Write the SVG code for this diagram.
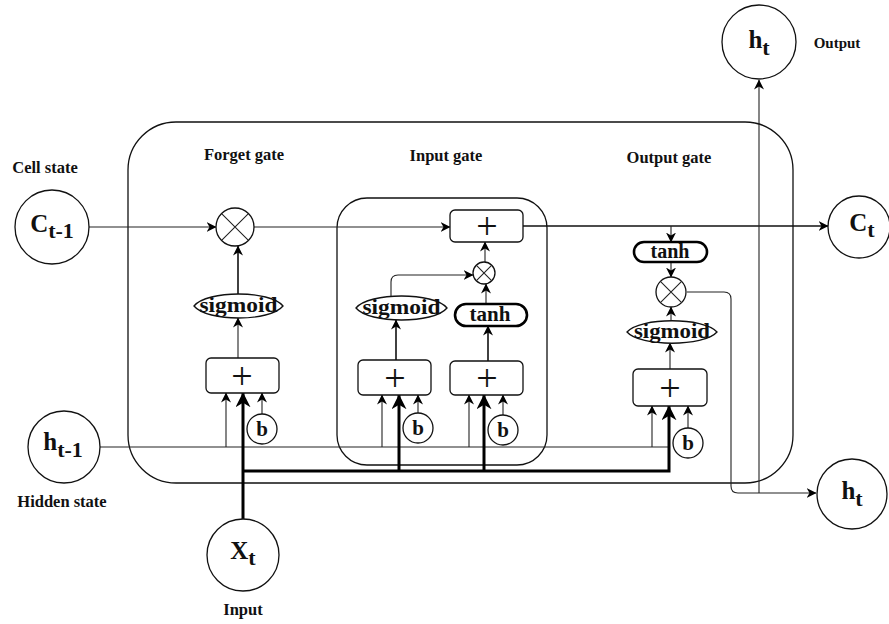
<svg xmlns="http://www.w3.org/2000/svg" width="889" height="624" viewBox="0 0 889 624">
<defs>
<style>
.lbl{font-family:"Liberation Serif","Times New Roman",serif;font-weight:bold;fill:#111}
.big{font-family:"Liberation Serif","Times New Roman",serif;font-weight:bold;fill:#111;font-size:25px;text-anchor:middle}
.sub{font-size:22px}
.ttl{font-family:"Liberation Serif","Times New Roman",serif;font-weight:bold;fill:#111;font-size:16.5px;text-anchor:middle}
.plus{font-family:"Liberation Serif","Times New Roman",serif;font-weight:normal;fill:#111;font-size:38px;text-anchor:middle}
.thin{stroke:#222;stroke-width:1.1;fill:none}
.mid{stroke:#111;stroke-width:1.6;fill:none}
.thick{stroke:#000;stroke-width:3;fill:none}
.node{fill:#fff;stroke:#111;stroke-width:1.3}
.bold{fill:#fff;stroke:#000;stroke-width:2.6}
.frame{fill:none;stroke:#111;stroke-width:1.3}
</style>
<marker id="a" viewBox="0 0 10 10" refX="9.5" refY="5" markerWidth="10" markerHeight="10" markerUnits="userSpaceOnUse" orient="auto">
<path d="M0,0 L10,5 L0,10 L3,5 Z" fill="#000"/>
</marker>
<marker id="A" viewBox="0 0 10 10" refX="9.5" refY="5" markerWidth="15" markerHeight="15" markerUnits="userSpaceOnUse" orient="auto">
<path d="M0,0 L10,5 L0,10 L3,5 Z" fill="#000"/>
</marker>
</defs>
<rect width="889" height="624" fill="#fff"/>

<g id="frames">
<rect class="frame" x="128" y="122" width="665" height="361" rx="48" ry="48"/>
<rect class="frame" x="337" y="198" width="210" height="267" rx="30" ry="30"/>
</g>

<g id="titles">
<text class="ttl" x="45" y="173">Cell state</text>
<text class="ttl" x="244" y="160">Forget gate</text>
<text class="ttl" x="446" y="161">Input gate</text>
<text class="ttl" x="669" y="163">Output gate</text>
<text class="ttl" x="837" y="48" style="font-size:15px">Output</text>
<text class="ttl" x="62" y="507">Hidden state</text>
<text class="ttl" x="243" y="615">Input</text>
</g>

<g id="connectors">
<path class="thin" d="M89,227 H216" marker-end="url(#a)"/>
<path class="thin" d="M254,227 H450" marker-end="url(#a)"/>
<path class="mid" d="M523,226 H828" marker-end="url(#a)"/>
<path class="thin" d="M671,226 V242" marker-end="url(#a)"/>
<path class="thin" d="M671,262 V277" marker-end="url(#a)"/>
<path class="thin" d="M671,321 V307" marker-end="url(#a)"/>
<path class="thin" d="M670,369 V343" marker-end="url(#a)"/>
<path class="thin" d="M687,292 H724 Q731,292 731,299 V486 Q731,493 738,493 H816" marker-end="url(#a)"/>
<path class="thin" d="M759,493 V80" marker-end="url(#a)"/>
<path class="mid" d="M238,294 V246" marker-end="url(#a)"/>
<path class="thin" d="M238,358 V318" marker-end="url(#a)"/>
<path class="thin" d="M485,262 V242" marker-end="url(#a)"/>
<path class="thin" d="M391,296 V282 Q391,275 398,275 H473" marker-end="url(#a)"/>
<path class="thin" d="M486,304 V284" marker-end="url(#a)"/>
<path class="mid" d="M488,361 V326" marker-end="url(#a)"/>
<path class="mid" d="M396,360 V320" marker-end="url(#a)"/>
<path class="thin" d="M100,447 H668"/>
<path class="thin" d="M226,447 V393" marker-end="url(#a)"/>
<path class="thin" d="M382,447 V395" marker-end="url(#a)"/>
<path class="thin" d="M469,447 V395" marker-end="url(#a)"/>
<path class="thin" d="M652,447 V406" marker-end="url(#a)"/>
<path class="thin" d="M262,414 V393" marker-end="url(#a)"/>
<path class="thin" d="M418,413 V395" marker-end="url(#a)"/>
<path class="thin" d="M503,415 V395" marker-end="url(#a)"/>
<path class="thin" d="M688,428 V406" marker-end="url(#a)"/>
<path class="thick" d="M243,519 V393" marker-end="url(#A)"/>
<path class="thick" d="M243,471 H669 V406" marker-end="url(#A)"/>
<path class="thick" d="M399,471 V395" marker-end="url(#A)"/>
<path class="thick" d="M484,471 V395" marker-end="url(#A)"/>
</g>

<g id="c_prev">
<circle class="node" cx="52" cy="227" r="37"/>
<text class="big" x="52" y="232">C<tspan class="sub" dy="6">t-1</tspan></text>
</g>
<g id="h_prev">
<circle class="node" cx="64" cy="447" r="36"/>
<text class="big" x="63" y="450">h<tspan class="sub" dy="7">t-1</tspan></text>
</g>
<g id="x_t">
<circle class="node" cx="243" cy="555" r="36"/>
<text class="big" x="243" y="559">X<tspan class="sub" dy="6">t</tspan></text>
</g>
<g id="c_t">
<circle class="node" cx="859" cy="227" r="31"/>
<text class="big" x="862" y="231">C<tspan class="sub" dy="6">t</tspan></text>
</g>
<g id="h_out">
<circle class="node" cx="759" cy="42" r="37"/>
<text class="big" x="759" y="48">h<tspan class="sub" dy="7">t</tspan></text>
</g>
<g id="h_t">
<circle class="node" cx="852" cy="494" r="35"/>
<text class="big" x="852" y="499">h<tspan class="sub" dy="7">t</tspan></text>
</g>

<g id="forget_mul">
<circle class="node" cx="235" cy="227" r="19"/>
<path class="thin" d="M221.6,213.6 L248.4,240.4 M248.4,213.6 L221.6,240.4"/>
</g>
<g id="forget_sigmoid">
<path class="node" d="M194,306 C207,290 270,290 283,306 C270,322 207,322 194,306 Z"/>
<text class="lbl" x="238.5" y="312" font-size="21" text-anchor="middle" textLength="78" lengthAdjust="spacingAndGlyphs">sigmoid</text>
</g>
<g id="forget_sum">
<rect class="node" x="206" y="358" width="73" height="35" rx="5"/>
<text class="plus" x="242" y="389">+</text>
</g>
<g id="forget_b">
<circle class="node" cx="262" cy="429" r="15"/>
<text class="lbl" x="262" y="436" font-size="21" text-anchor="middle">b</text>
</g>

<g id="input_add">
<rect class="node" x="450" y="210" width="73" height="32" rx="5"/>
<text class="plus" x="487" y="239">+</text>
</g>
<g id="input_mul">
<circle class="node" cx="484" cy="273" r="11"/>
<path class="thin" d="M476.2,265.2 L491.8,280.8 M491.8,265.2 L476.2,280.8"/>
</g>
<g id="input_sigmoid">
<path class="node" d="M356,308 C369,292 434,292 447,308 C434,324 369,324 356,308 Z"/>
<text class="lbl" x="401.5" y="314" font-size="21" text-anchor="middle" textLength="78" lengthAdjust="spacingAndGlyphs">sigmoid</text>
</g>
<g id="input_tanh">
<rect class="bold" x="455" y="304" width="72" height="22" rx="11"/>
<text class="lbl" x="490" y="321" font-size="21" text-anchor="middle">tanh</text>
</g>
<g id="input_sum1">
<rect class="node" x="358" y="360" width="73" height="35" rx="5"/>
<text class="plus" x="395" y="391">+</text>
</g>
<g id="input_sum2">
<rect class="node" x="450" y="361" width="73" height="34" rx="5"/>
<text class="plus" x="487" y="391">+</text>
</g>
<g id="input_b1">
<circle class="node" cx="418" cy="428" r="15"/>
<text class="lbl" x="418" y="435" font-size="21" text-anchor="middle">b</text>
</g>
<g id="input_b2">
<circle class="node" cx="503" cy="430" r="15"/>
<text class="lbl" x="503" y="437" font-size="21" text-anchor="middle">b</text>
</g>

<g id="output_tanh">
<rect class="bold" x="634" y="242" width="73" height="20" rx="10"/>
<text class="lbl" x="670" y="258" font-size="20" text-anchor="middle">tanh</text>
</g>
<g id="output_mul">
<circle class="node" cx="671" cy="292" r="15"/>
<path class="thin" d="M660.4,281.4 L681.6,302.6 M681.6,281.4 L660.4,302.6"/>
</g>
<g id="output_sigmoid">
<path class="node" d="M627,332 C640,317 704,317 717,332 C704,347 640,347 627,332 Z"/>
<text class="lbl" x="672" y="338" font-size="21" text-anchor="middle" textLength="76" lengthAdjust="spacingAndGlyphs">sigmoid</text>
</g>
<g id="output_sum">
<rect class="node" x="633" y="369" width="74" height="37" rx="5"/>
<text class="plus" x="670" y="401">+</text>
</g>
<g id="output_b">
<circle class="node" cx="688" cy="443" r="15"/>
<text class="lbl" x="688" y="450" font-size="21" text-anchor="middle">b</text>
</g>
</svg>
